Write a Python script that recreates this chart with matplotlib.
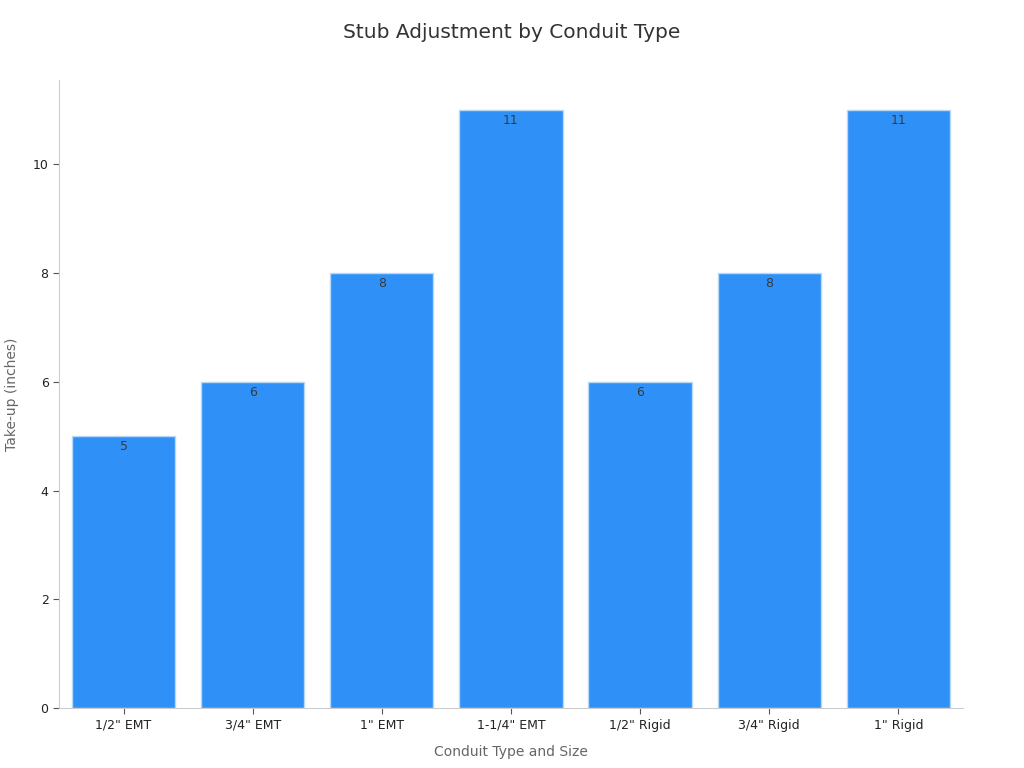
import matplotlib
matplotlib.use("Agg")
import matplotlib.pyplot as plt

categories = ['1/2" EMT', '3/4" EMT', '1" EMT', '1-1/4" EMT', '1/2" Rigid', '3/4" Rigid', '1" Rigid']
take_up = [5, 6, 8, 11, 6, 8, 11]

fig = plt.figure(figsize=(10.24, 7.68), dpi=100)
ax = fig.add_axes([0.0576, 0.078, 0.8828, 0.818])

bars = ax.bar(range(len(categories)), take_up, width=0.8, color="#2F91F7",
              edgecolor="#B8D8F8", linewidth=1)
for b, v in zip(bars, take_up):
    ax.text(b.get_x() + b.get_width() / 2, v - 0.08, str(v), ha="center", va="top",
            fontsize=9, color="#3a3a3a")

ax.set_xticks(range(len(categories)))
ax.set_xticklabels(categories, fontsize=9, color="#222222")
ax.set_xlim(-0.5, len(categories) - 0.5)
ax.set_ylim(0, 11.55)
ax.set_yticks([0, 2, 4, 6, 8, 10])
ax.tick_params(axis="y", labelsize=9, colors="#222222")
ax.tick_params(axis="both", color="#555555", length=4)

for s in ["top", "right"]:
    ax.spines[s].set_visible(False)
for s in ["left", "bottom"]:
    ax.spines[s].set_color("#cccccc")

ax.set_xlabel("Conduit Type and Size", fontsize=10, color="#666666", labelpad=10)
ax.set_ylabel("Take-up (inches)", fontsize=10, color="#666666", labelpad=10)
fig.suptitle("Stub Adjustment by Conduit Type", fontsize=14.5, color="#333333", y=0.97)

plt.savefig("out.png", dpi=100)
